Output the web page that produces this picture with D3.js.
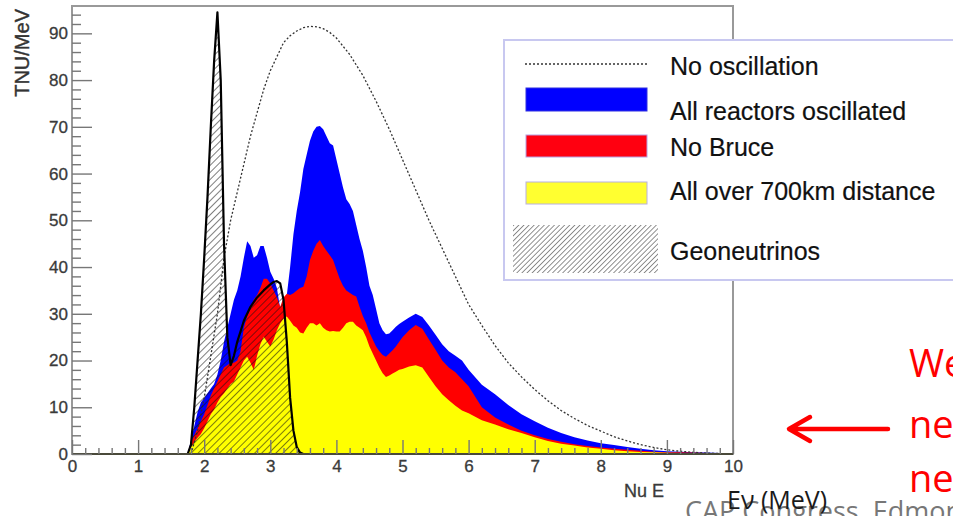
<!DOCTYPE html>
<html>
<head>
<meta charset="utf-8">
<script src="https://cdn.jsdelivr.net/npm/d3@7"></script>
<style>
  body { margin: 0; background: #fff; }
  svg { display: block; font-family: "Liberation Sans", Arial, sans-serif; }
</style>
</head>
<body>
<script>
// spectra (E in MeV, values in TNU/MeV)
var reactorE = [1.75, 1.8, 1.85, 1.9, 1.95, 2.0, 2.05, 2.1, 2.15, 2.2, 2.25, 2.3, 2.35, 2.4, 2.45,
    2.5, 2.55, 2.6, 2.65, 2.7, 2.75, 2.8, 2.85, 2.9, 2.95, 3.0, 3.05, 3.1, 3.15, 3.2, 3.25, 3.3,
    3.35, 3.4, 3.45, 3.5, 3.55, 3.6, 3.65, 3.7, 3.75, 3.8, 3.85, 3.9, 3.95, 4.0, 4.05, 4.1, 4.15,
    4.2, 4.25, 4.3, 4.35, 4.4, 4.45, 4.5, 4.55, 4.6, 4.65, 4.7, 4.75, 4.8, 4.85, 4.9, 4.95, 5.0,
    5.1, 5.2, 5.3, 5.4, 5.5, 5.6, 5.7, 5.8, 5.9, 6.0, 6.2, 6.4, 6.6, 6.8, 7.0, 7.2, 7.4, 7.6,
    7.8, 8.0, 8.2, 8.4, 8.6, 8.8, 9.0, 9.2, 9.4, 9.6, 9.8, 10.0];

var allReactors = [0, 3, 6, 9, 11, 12, 13, 14, 15, 17, 20, 24, 27, 30, 33,
    35, 38, 42, 45.5, 44.5, 42, 42.5, 44.5, 44.5, 42, 39, 37.5, 35.5, 31, 29, 34, 40,
    47, 52, 56, 61, 64, 67, 69, 70, 70.2, 69.5, 68, 66.5, 66, 63, 60, 57, 54.5,
    53.5, 52, 49, 46, 43.5, 40, 36, 34, 31, 28, 26.5, 25.6, 25.8, 26.5, 27.2, 27.8, 28.3,
    29.2, 30, 29.3, 27.5, 25.5, 23.5, 22, 21, 20, 18, 14.8, 12.8, 10.5, 8.5, 7, 5.6, 4.5, 3.6,
    2.9, 2.3, 1.9, 1.5, 1.1, 0.8, 0.6, 0.5, 0.4, 0.3, 0.2, 0];

var noBruce = [0, 2.5, 4, 5.5, 7, 8.5, 10.5, 12.5, 14, 15.5, 17, 18.5, 19, 19.5, 19.5,
    20, 22, 27, 29.5, 31, 33, 34, 35.5, 37.5, 37.5, 36.5, 35, 33.5, 31.5, 33.5, 34.3, 34,
    34.4, 35, 35.5, 35.8, 38, 41.5, 43.5, 45, 45.8, 44.5, 43.5, 42.5, 41.5, 39.5, 37.5, 36, 35,
    34.5, 34, 33.7, 31.5, 29.5, 28, 26, 24.5, 23, 22, 21.2, 20.8, 21.5, 22.2, 23, 24, 25,
    26.5, 27.6, 26.8, 24.5, 22.3, 20, 18.5, 17.5, 16, 14.5, 10, 7.8, 6.3, 5, 4, 3.2, 2.6, 2.1,
    1.7, 1.4, 1.1, 0.9, 0.7, 0.5, 0.4, 0.35, 0.3, 0.2, 0.1, 0];

var over700 = [0, 1.5, 2.5, 3.5, 4.3, 5.5, 7, 8.5, 9.5, 11, 12.2, 13, 14, 15, 15.5,
    17, 18.5, 20, 20.8, 19.5, 18, 21, 23.5, 25.1, 24, 23, 24.5, 26.5, 28, 29, 29.4, 28.5,
    27.5, 27, 26, 25.8, 27, 28, 28, 27.5, 28, 27, 26.5, 26.2, 26.3, 26.2, 26.2, 27, 28,
    28.3, 28.3, 27.5, 27, 26.5, 25, 23, 21.5, 20, 18.5, 17.3, 16.5, 16.8, 17.2, 17.6, 18, 18.2,
    18.7, 19, 18.5, 16.5, 14.5, 12.8, 11.5, 10.3, 9.3, 8.7, 7.2, 6.3, 5.3, 4.5, 3.6, 2.8, 2.2, 1.8,
    1.4, 1.1, 0.8, 0.6, 0.45, 0.35, 0.25, 0.2, 0.15, 0.1, 0.05, 0];

var noOscE = [1.8, 1.9, 2.0, 2.1, 2.2, 2.3, 2.4, 2.5, 2.6, 2.7, 2.8, 2.9, 3.0, 3.1, 3.2, 3.3,
    3.4, 3.5, 3.6, 3.7, 3.8, 3.9, 4.0, 4.2, 4.4, 4.6, 4.8, 5.0, 5.2, 5.4, 5.6, 5.8, 6.0, 6.2,
    6.4, 6.6, 6.8, 7.0, 7.2, 7.4, 7.6, 7.8, 8.0, 8.2, 8.4, 8.6, 8.8, 9.0, 9.2, 9.4, 9.6, 9.8, 10.0];
var noOsc = [0, 5, 12, 21, 30, 42, 50, 56, 62, 68, 73, 78, 82, 85, 88, 89.5,
    90.5, 91.2, 91.5, 91.4, 91, 90.2, 89, 85.5, 81, 75.5, 69.5, 63, 56.5, 50, 44, 38, 32, 27.5,
    23.2, 19.5, 16.5, 13.8, 11.4, 9.3, 7.6, 6.1, 4.9, 3.7, 2.8, 2.0, 1.4, 0.9, 0.6, 0.35, 0.2, 0.1, 0];

var geoE = [1.75, 1.8, 1.85, 1.9, 1.95, 2.0, 2.05, 2.1, 2.15, 2.2, 2.25, 2.3, 2.35, 2.4, 2.45,
    2.5, 2.6, 2.7, 2.8, 2.9, 3.0, 3.05, 3.1, 3.15, 3.2, 3.25, 3.3, 3.35, 3.4, 3.45, 3.5, 10.0];
var geo = [0, 2, 10, 20, 30, 42, 55, 70, 84, 94.5, 80, 45, 25, 19, 21,
    24, 28.5, 31.5, 33.5, 35, 36.3, 36.8, 37, 36.5, 33, 24, 12, 5, 1.5, 0.3, 0, 0];

var yMajor = [0, 10, 20, 30, 40, 50, 60, 70, 80, 90];
var xMajor = [0, 1, 2, 3, 4, 5, 6, 7, 8, 9, 10];

var legendLabels = ["No oscillation", "All reactors oscillated", "No Bruce",
    "All over 700km distance", "Geoneutrinos"];

var width = 953, height = 516;
var plot = {left: 72, right: 733, top: 6, bottom: 454};

var svg = d3.select("body").append("svg")
    .attr("width", width)
    .attr("height", height)
    .style("overflow", "hidden");

svg.append("rect").attr("width", width).attr("height", height).attr("fill", "#fff");

var x = d3.scaleLinear().domain([0, 10]).range([plot.left, plot.right]);
var y = d3.scaleLinear().domain([0, 95.85]).range([plot.bottom, plot.top]);

// hatch patterns
var defs = svg.append("defs");
defs.append("pattern")
    .attr("id", "hatch")
    .attr("patternUnits", "userSpaceOnUse")
    .attr("width", 5).attr("height", 5)
    .attr("patternTransform", "rotate(45)")
    .append("line")
    .attr("x1", 0).attr("y1", 0).attr("x2", 0).attr("y2", 5)
    .attr("stroke", "#111").attr("stroke-width", 1.1);
defs.append("pattern")
    .attr("id", "hatchLegend")
    .attr("patternUnits", "userSpaceOnUse")
    .attr("width", 3.6).attr("height", 3.6)
    .attr("patternTransform", "rotate(45)")
    .append("line")
    .attr("x1", 0).attr("y1", 0).attr("x2", 0).attr("y2", 3.6)
    .attr("stroke", "#555").attr("stroke-width", 1.3);

function pairs(xs, ys) {
    return xs.map(function(e, i) { return [e, ys[i]]; });
}

var area = d3.area()
    .x(function(d) { return x(d[0]); })
    .y0(y(0))
    .y1(function(d) { return y(d[1]); });
var line = d3.line()
    .x(function(d) { return x(d[0]); })
    .y(function(d) { return y(d[1]); });

// reactor spectra, biggest first
svg.append("path").attr("d", area(pairs(reactorE, allReactors))).attr("fill", "#0000ff");
svg.append("path").attr("d", area(pairs(reactorE, noBruce))).attr("fill", "#ff0000");
svg.append("path").attr("d", area(pairs(reactorE, over700))).attr("fill", "#ffff00");

// no oscillation
svg.append("path")
    .attr("d", line(pairs(noOscE, noOsc)))
    .attr("fill", "none")
    .attr("stroke", "#333")
    .attr("stroke-width", 1.3)
    .attr("stroke-dasharray", "2,2");

// geoneutrinos
svg.append("path").attr("d", area(pairs(geoE, geo))).attr("fill", "url(#hatch)");
svg.append("path")
    .attr("d", line(pairs(geoE, geo)))
    .attr("fill", "none")
    .attr("stroke", "#000")
    .attr("stroke-width", 2.2)
    .attr("stroke-linejoin", "round");

// frame
svg.append("rect")
    .attr("x", plot.left).attr("y", plot.top)
    .attr("width", plot.right - plot.left).attr("height", plot.bottom - plot.top)
    .attr("fill", "none").attr("stroke", "#999").attr("stroke-width", 2);
svg.append("line")
    .attr("x1", plot.left).attr("x2", plot.right)
    .attr("y1", plot.bottom).attr("y2", plot.bottom)
    .attr("stroke", "#4a4a3a").attr("stroke-width", 2.2);

// axes, ticks pointing inward like ROOT
var yMinor = d3.range(0, 96, 2).filter(function(v) { return v % 10 !== 0; });
var xMinor = d3.range(0, 10.01, 0.2).filter(function(v) { return Math.abs(v - Math.round(v)) > 0.01; });

var gy = svg.append("g").attr("transform", "translate(" + plot.left + ",0)")
    .call(d3.axisLeft(y).tickValues(yMajor).tickSize(-20).tickPadding(4));
svg.append("g").attr("transform", "translate(" + plot.left + ",0)")
    .call(d3.axisLeft(y).tickValues(yMinor).tickSize(-9).tickFormat(""));
var gx = svg.append("g").attr("transform", "translate(0," + plot.bottom + ")")
    .call(d3.axisBottom(x).tickValues(xMajor).tickSize(-14).tickPadding(6));
svg.append("g").attr("transform", "translate(0," + plot.bottom + ")")
    .call(d3.axisBottom(x).tickValues(xMinor).tickSize(-6).tickFormat(""));

svg.selectAll(".domain").remove();
svg.selectAll(".tick line").attr("stroke", "#777").attr("stroke-width", 1.4);
svg.selectAll(".tick text")
    .attr("font-family", "Liberation Sans, Arial, sans-serif")
    .attr("font-size", 17)
    .attr("fill", "#3a3a3a")
    .attr("stroke", "#3a3a3a")
    .attr("stroke-width", 0.3);

// axis titles
svg.append("text")
    .attr("transform", "translate(29,9) rotate(-90)")
    .attr("text-anchor", "end")
    .attr("font-size", 20)
    .attr("fill", "#333")
    .attr("stroke", "#333")
    .attr("stroke-width", 0.4)
    .text("TNU/MeV");
svg.append("text")
    .attr("x", 664).attr("y", 497)
    .attr("text-anchor", "end")
    .attr("font-size", 18)
    .attr("fill", "#3a3a3a")
    .attr("stroke", "#3a3a3a")
    .attr("stroke-width", 0.3)
    .text("Nu E");

// legend
var lg = svg.append("g");
lg.append("rect")
    .attr("x", 504).attr("y", 40)
    .attr("width", 470).attr("height", 240)
    .attr("fill", "#fff")
    .attr("stroke", "#c8c8f0").attr("stroke-width", 2);

lg.append("line")
    .attr("x1", 525).attr("x2", 647).attr("y1", 64).attr("y2", 64)
    .attr("stroke", "#333").attr("stroke-width", 1.5).attr("stroke-dasharray", "2,2");
lg.append("rect").attr("x", 526).attr("y", 88).attr("width", 121).attr("height", 23)
    .attr("fill", "#0000ff").attr("stroke", "#3030e0").attr("stroke-width", 1);
lg.append("rect").attr("x", 526).attr("y", 135).attr("width", 121).attr("height", 22)
    .attr("fill", "#ff0010").attr("stroke", "#b8a0e0").attr("stroke-width", 1);
lg.append("rect").attr("x", 526).attr("y", 182).attr("width", 121).attr("height", 22)
    .attr("fill", "#ffff30").attr("stroke", "#b8b0e0").attr("stroke-width", 1);
lg.append("rect").attr("x", 513).attr("y", 225).attr("width", 145).attr("height", 48)
    .attr("fill", "url(#hatchLegend)");

var legendY = [75, 120, 156, 200, 260];
lg.selectAll("text.leg")
    .data(legendLabels)
    .enter().append("text")
    .attr("class", "leg")
    .attr("x", 670)
    .attr("y", function(d, i) { return legendY[i]; })
    .attr("font-size", 25)
    .attr("fill", "#111")
    .attr("stroke", "#111")
    .attr("stroke-width", 0.2)
    .text(function(d) { return d; });

// slide overlay text
svg.append("text")
    .attr("x", 685).attr("y", 521)
    .attr("font-family", "Open Sans, sans-serif")
    .attr("font-size", 27)
    .attr("fill", "#777")
    .text("CAP Congress, Edmonton");
svg.append("text")
    .attr("x", 727).attr("y", 509)
    .attr("font-family", "Open Sans, sans-serif")
    .attr("font-size", 25)
    .attr("fill", "#1a1a1a")
    .text("E\u03bd (MeV)");

var redLines = [["We", 377], ["ne", 438], ["ne", 492]];
svg.selectAll("text.red")
    .data(redLines)
    .enter().append("text")
    .attr("class", "red")
    .attr("x", 909)
    .attr("y", function(d) { return d[1]; })
    .attr("font-family", "Open Sans, sans-serif")
    .attr("font-size", 38)
    .attr("fill", "#ff0000")
    .text(function(d) { return d[0]; });

// arrow
svg.append("path")
    .attr("d", "M888,429 L790,429 M810,417 L789,429 L810,441")
    .attr("fill", "none")
    .attr("stroke", "#ff0000")
    .attr("stroke-width", 4.5)
    .attr("stroke-linecap", "round")
    .attr("stroke-linejoin", "round");
</script>
</body>
</html>
